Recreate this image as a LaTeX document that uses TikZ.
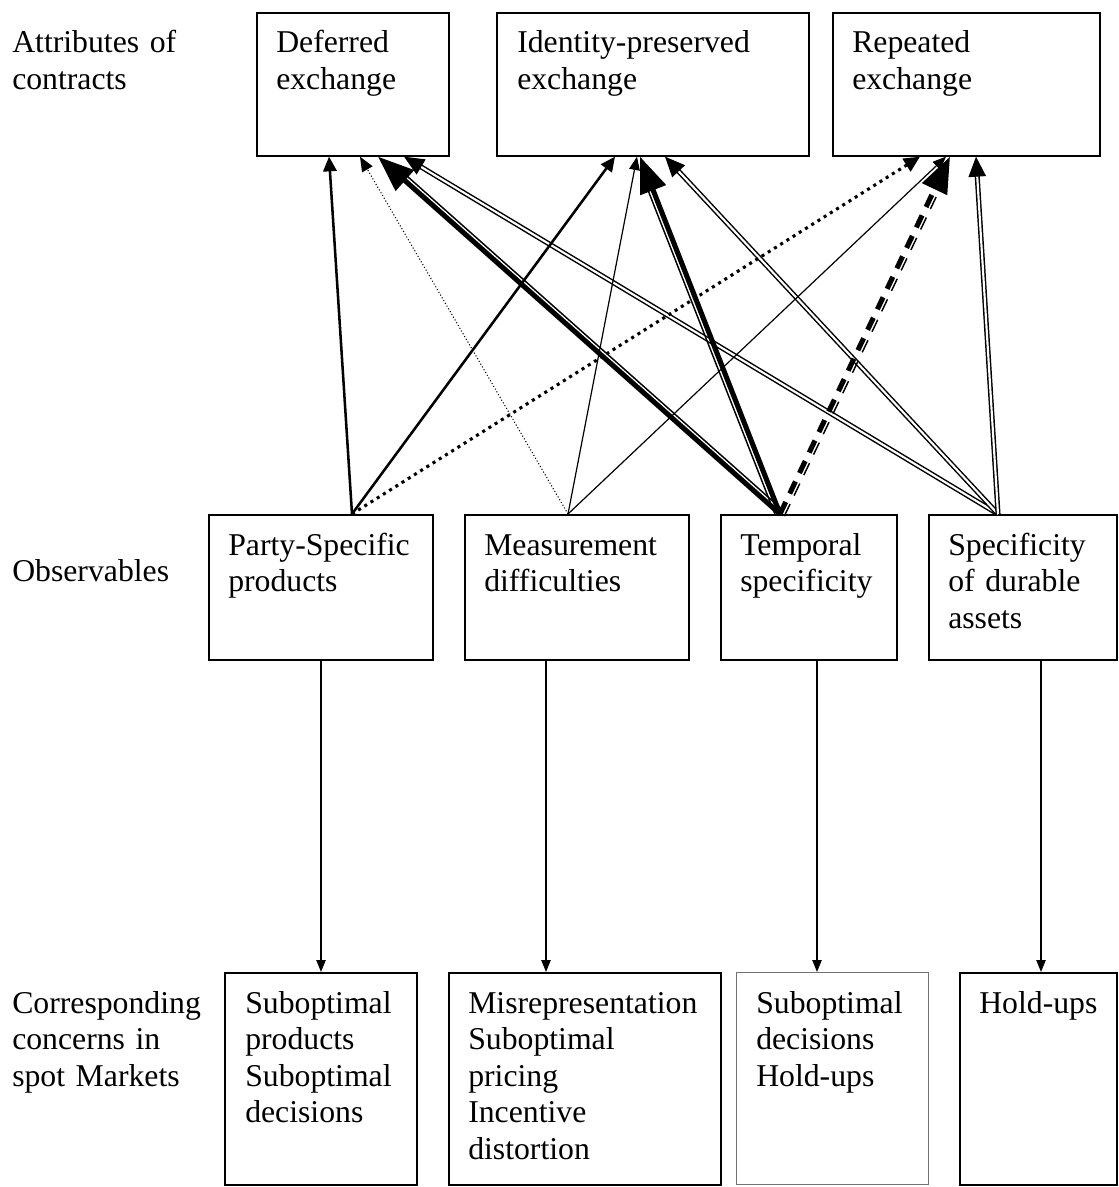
\documentclass[tikz,border=0pt]{standalone}
\usepackage{fontspec}
\setmainfont{Liberation Serif}
\usetikzlibrary{arrows.meta,calc}
\begin{document}
\begin{tikzpicture}[x=0.75pt,y=-0.75pt,
  font=\fontsize{23.8pt}{27.4pt}\selectfont,
  box/.style={draw, line width=1.5pt, anchor=north west, inner sep=0pt},
  txt/.style={anchor=base west, align=left, inner sep=0pt, text width=200pt},
  solidarr/.style={line width=1.9pt, -{Triangle[length=11pt,width=10pt]}},
  thinarr/.style={line width=0.9pt, -{Triangle[length=10pt,width=8pt]}},
  dotarr/.style={line width=0.8pt, dash pattern=on 0.8pt off 1.6pt, -{Triangle[length=11pt,width=9pt]}},
  sqdot/.style={line width=2.3pt, dash pattern=on 2.3pt off 3.2pt, -{Triangle[length=12pt,width=11pt]}},
  dbl/.style={double, line width=1.1pt, double distance=1.6pt, -{Triangle[length=15pt,width=13pt]}},
  heavy/.style={line width=3.8pt, -{Triangle[length=27pt,width=20pt]}},
  hair/.style={line width=1.1pt, shorten >=16pt},
  down/.style={line width=1.1pt, -{Triangle[length=9pt,width=7pt]}}]
\useasboundingbox (0,0) rectangle (1118,1187);
% Attributes of contracts
\node[box, minimum width=144pt, minimum height=107pt] (def) at (256,12) {};
\node[box, minimum width=234pt, minimum height=107pt] (idp) at (496,12) {};
\node[box, minimum width=200pt, minimum height=107pt] (rep) at (832,12) {};
\node[txt] (deft) at ([shift={(20,41)}]def.north west) {Deferred\\exchange};
\node[txt] (idpt) at ([shift={(21,41)}]idp.north west) {Identity-preserved\\exchange};
\node[txt] (rept) at ([shift={(20,41)}]rep.north west) {Repeated\\exchange};
% Observables
\node[box, minimum width=168pt, minimum height=109pt] (psp) at (208,514) {};
\node[box, minimum width=168pt, minimum height=109pt] (mes) at (464,514) {};
\node[box, minimum width=132pt, minimum height=109pt] (tem) at (720,514) {};
\node[box, minimum width=141pt, minimum height=109pt] (dur) at (928,514) {};
\node[txt] (pspt) at ([shift={(20,41)}]psp.north west) {Party-Specific\\products};
\node[txt] (mest) at ([shift={(20,41)}]mes.north west) {Measurement\\difficulties};
\node[txt] (temt) at ([shift={(20,41)}]tem.north west) {Temporal\\specificity};
\node[txt] (durt) at ([shift={(20,41)}]dur.north west) {Specificity\\of durable\\assets};
% Concerns in spot markets
\node[box, minimum width=144pt, minimum height=159pt] (sub1) at (224,972) {};
\node[box, minimum width=204pt, minimum height=159pt] (sub2) at (448,972) {};
\node[box, draw=black!55, line width=0.75pt, minimum width=144pt, minimum height=159pt] (sub3) at (736,972) {};
\node[box, minimum width=118pt, minimum height=159pt] (sub4) at (959,972) {};
\node[txt] (sub1t) at ([shift={(21,41)}]sub1.north west) {Suboptimal\\products\\Suboptimal\\decisions};
\node[txt] (sub2t) at ([shift={(20,41)}]sub2.north west) {Misrepresentation\\Suboptimal\\pricing\\Incentive\\distortion};
\node[txt] (sub3t) at ([shift={(20,41)}]sub3.north west) {Suboptimal\\decisions\\Hold-ups};
\node[txt] (sub4t) at ([shift={(20,41)}]sub4.north west) {Hold-ups};
% Row labels
\node[txt] (row1) at (12,53) {Attributes of\\contracts};
\node[txt] (row2) at (12,581) {Observables};
\node[txt] (row3) at (12,1013) {Corresponding\\concerns in\\spot Markets};
% Ends of the links
\coordinate (pspTop) at ([shift={(144,0)}]psp.north west);
\coordinate (mesTop) at ([shift={(104,0)}]mes.north west);
\coordinate (temTop) at ([shift={(60,0)}]tem.north west);
\coordinate (durTop) at ([shift={(70,0)}]dur.north west);
\coordinate (defP) at ([shift={(73,0)}]def.south west);
\coordinate (defM) at ([shift={(104,0)}]def.south west);
\coordinate (defT) at ([shift={(122,0)}]def.south west);
\coordinate (defS) at ([shift={(148,0)}]def.south west);
\coordinate (idpP) at ([shift={(119,0)}]idp.south west);
\coordinate (idpM) at ([shift={(141,0)}]idp.south west);
\coordinate (idpT) at ([shift={(144,0)}]idp.south west);
\coordinate (idpS) at ([shift={(169,0)}]idp.south west);
\coordinate (repP) at ([shift={(88,0)}]rep.south west);
\coordinate (repM) at ([shift={(114,0)}]rep.south west);
\coordinate (repT) at ([shift={(118,0)}]rep.south west);
\coordinate (repS) at ([shift={(144,0)}]rep.south west);
% Links to deferred exchange
\draw[solidarr] (pspTop) -- (defP);
\draw[dotarr] (mesTop) -- (defM);
\draw[dbl] (durTop) -- (defS);
% Links to identity-preserved exchange
\draw[solidarr] (pspTop) -- (idpP);
\draw[thinarr] (mesTop) -- (idpM);
\draw[dbl] (durTop) -- (idpS);
% Links to repeated exchange
\draw[sqdot] (pspTop) -- (repP);
\draw[thinarr] (mesTop) -- (repM);
\draw[dbl] (durTop) -- (repS);
% Heavy links from temporal specificity
\draw[heavy] (temTop) -- (defT);
\draw[hair] ($(temTop)!3.6pt!-90:(defT)$) -- ($(defT)!3.6pt!90:(temTop)$);
\draw[heavy] (temTop) -- (idpT);
\draw[hair] ($(temTop)!3.6pt!90:(idpT)$) -- ($(idpT)!3.6pt!-90:(temTop)$);
\draw[heavy, dash pattern=on 10pt off 7pt] (temTop) -- (repT);
\draw[hair, dash pattern=on 10pt off 7pt] ($(temTop)!3.6pt!-90:(repT)$) -- ($(repT)!3.6pt!90:(temTop)$);
% Down to the concerns
\draw[down] (psp.south) -- (psp.south |- sub1.north);
\draw[down] ([shift={(-31,0)}]mes.south) -- ([shift={(-31,0)}]mes.south |- sub2.north);
\draw[down] ([shift={(8,0)}]tem.south) -- ([shift={(8,0)}]tem.south |- sub3.north);
\draw[down] ([shift={(18,0)}]dur.south) -- ([shift={(18,0)}]dur.south |- sub4.north);
\end{tikzpicture}
\end{document}
